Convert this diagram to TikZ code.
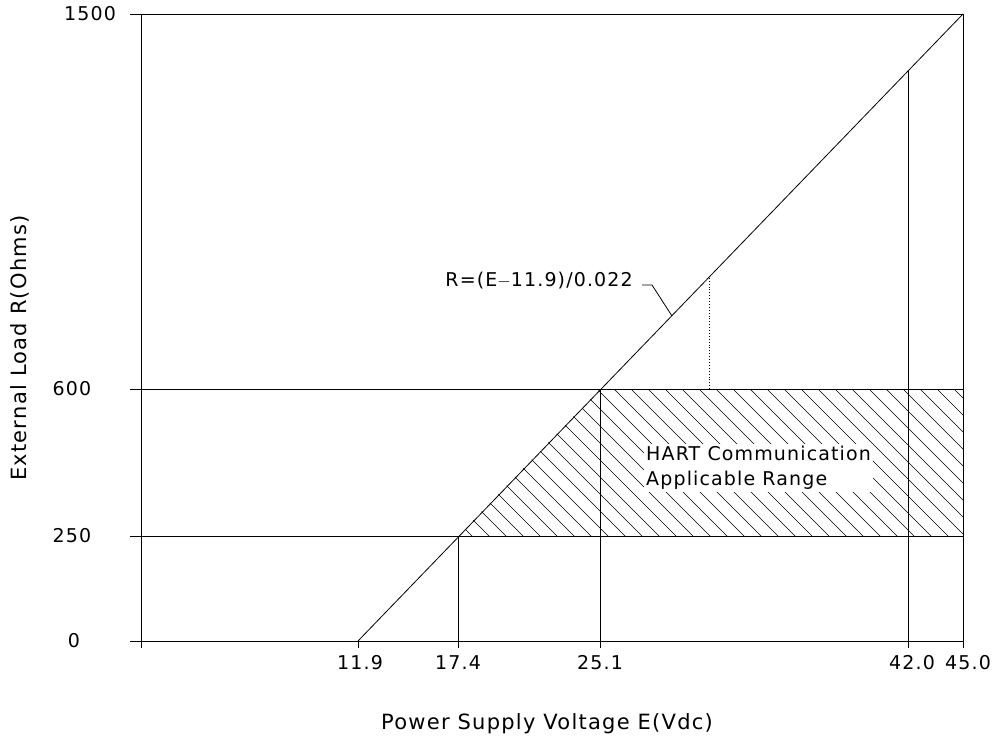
\documentclass[tikz,border=0pt]{standalone}
\usepackage{fontspec}
\setmainfont{DejaVu Sans}[LetterSpace=6]
\begin{document}
\begin{tikzpicture}[x=1pt,y=-1pt,
  ln/.style={line width=0.8pt,black},
  lbl/.style={font=\fontsize{19}{25}\selectfont, inner sep=1pt},
  ttl/.style={font=\fontsize{21}{25}\selectfont, inner sep=1pt}]
\useasboundingbox (0,0) rectangle (999,743);
\fill[white] (0,0) rectangle (999,743);
% hatch
\begin{scope}
\clip (458,536) -- (600,389) -- (963,389) -- (963,536) -- cycle;
\foreach \c in {-200,-183,...,600} {
  \draw[line width=0.6pt] (\c+389,389) -- (\c+389+160,549);
}
\end{scope}
\node[lbl, fill=white, align=left, anchor=west, inner sep=2pt] (hart) at (644,468) {HART Communication\\Applicable Range};
% frame and axes
\draw[ln] (141,14) -- (963,14) -- (963,641);
\draw[ln] (141,14) -- (141,648);
\draw[ln] (130,641) -- (963,641);
\draw[ln] (130,389) -- (963,389);
\draw[ln] (130,536) -- (963,536);
\draw[ln] (130,14) -- (141,14);
\foreach \x in {358,458,600,908,963} \draw[ln] (\x,641) -- (\x,648);
% verticals
\draw[ln] (458,641) -- (458,536);
\draw[ln] (600,641) -- (600,389);
\draw[ln] (908,641) -- (908,70);
\draw[line width=0.9pt, dotted] (709,389) -- (709,278);
% load line
\coordinate (p0) at (358,641);
\coordinate (p1) at (963,14);
\draw[ln] (p0) -- (p1);
\node[lbl, anchor=east] (eq) at (634,281) {R=(E$-$11.9)/0.022};
\coordinate (lead) at (672,316);
\draw[ln] (eq.east) ++(8,4) coordinate (l0) -- (652,285) -- (lead);
% labels
\node[lbl] (y0) at (74,641) {0};
\node[lbl] (y250) at (72,536) {250};
\node[lbl] (y600) at (72,389) {600};
\node[lbl] (y1500) at (90,14) {1500};
\node[lbl] (x119) at (360,663) {11.9};
\node[lbl] (x174) at (458,663) {17.4};
\node[lbl] (x251) at (600,663) {25.1};
\node[lbl] (x420) at (912,663) {42.0};
\node[lbl] (x450) at (968,663) {45.0};
\node[ttl] (xl) at (547,724) {Power Supply Voltage E(Vdc)};
\node[ttl, rotate=90] (yl) at (20,348) {External Load R(Ohms)};
\end{tikzpicture}
\end{document}
